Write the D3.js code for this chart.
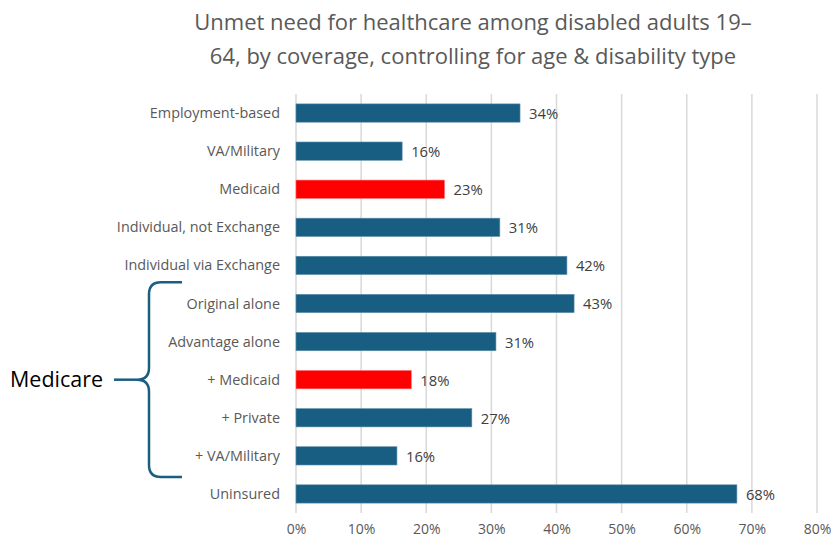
<!DOCTYPE html>
<html>
<head>
<meta charset="utf-8">
<script src="https://cdn.jsdelivr.net/npm/d3@7"></script>
<style>
  body { margin: 0; background: #fff; }
  svg { font-family: "Open Sans", "Noto Sans", sans-serif; }
</style>
</head>
<body>
<svg id="chart" width="831" height="540"></svg>
<script>
// chart data
const categories = ["Employment-based", "VA/Military", "Medicaid", "Individual, not Exchange",
  "Individual via Exchange", "Original alone", "Advantage alone", "+ Medicaid", "+ Private",
  "+ VA/Military", "Uninsured"];
const values = [34.4, 16.3, 22.8, 31.3, 41.6, 42.7, 30.7, 17.7, 27.0, 15.5, 67.7];
const valueLabels = ["34%", "16%", "23%", "31%", "42%", "43%", "31%", "18%", "27%", "16%", "68%"];
const highlighted = ["Medicaid", "+ Medicaid"];
const xTicks = [0, 10, 20, 30, 40, 50, 60, 70, 80];
const titleLines = ["Unmet need for healthcare among disabled adults 19\u2013",
  "64, by coverage, controlling for age & disability type"];
const groupLabel = "Medicare";
const groupMembers = ["Original alone", "+ VA/Military"];

const svg = d3.select("#chart");
const margin = { top: 94, left: 296, right: 14, bottom: 27 };
const width = 831 - margin.left - margin.right;
const height = 540 - margin.top - margin.bottom;

// title
svg.append("text")
  .attr("x", 473).attr("y", 30)
  .attr("text-anchor", "middle")
  .attr("fill", "#595959")
  .style("font-size", "22px")
  .selectAll("tspan")
  .data(titleLines)
  .enter().append("tspan")
  .attr("x", 473)
  .attr("dy", (d, i) => i === 0 ? 0 : 33.5)
  .text(d => d);

const g = svg.append("g")
  .attr("transform", `translate(${margin.left},${margin.top})`);

const xScale = d3.scaleLinear().domain([0, 80]).range([0, width]);
const yScale = d3.scaleBand().domain(categories).range([0, height]).paddingInner(0.52).paddingOuter(0.26);

// gridlines
g.append("g")
  .selectAll("line")
  .data(xTicks)
  .enter().append("line")
  .attr("x1", d => xScale(d)).attr("x2", d => xScale(d))
  .attr("y1", 0).attr("y2", height)
  .attr("stroke", "#d9d9d9")
  .attr("stroke-width", 1.5);

// x axis labels
const xAxis = d3.axisBottom(xScale).tickValues(xTicks).tickFormat(d => d + "%").tickSize(0).tickPadding(11);
g.append("g")
  .attr("transform", `translate(0,${height})`)
  .call(xAxis)
  .call(a => a.select(".domain").remove())
  .selectAll("text")
  .attr("fill", "#595959")
  .style("font-size", "14px")
  .style("font-family", "'Open Sans', 'Noto Sans', sans-serif");

// y labels
g.append("g")
  .selectAll("text")
  .data(categories)
  .enter().append("text")
  .attr("x", -16)
  .attr("y", d => yScale(d) + yScale.bandwidth() / 2)
  .attr("dy", "0.35em")
  .attr("text-anchor", "end")
  .attr("fill", "#595959")
  .style("font-size", "14.4px")
  .text(d => d);

// bars
g.append("g")
  .selectAll("rect")
  .data(categories)
  .enter().append("rect")
  .attr("x", 0)
  .attr("y", d => yScale(d))
  .attr("width", (d, i) => xScale(values[i]))
  .attr("height", yScale.bandwidth())
  .attr("fill", d => highlighted.includes(d) ? "#ff0000" : "#175e82")
  .attr("stroke", d => highlighted.includes(d) ? "#ff6666" : "#5f8faa")
  .attr("stroke-width", 0.6);

// value labels
g.append("g")
  .selectAll("text")
  .data(categories)
  .enter().append("text")
  .attr("x", (d, i) => xScale(values[i]) + 9)
  .attr("y", d => yScale(d) + yScale.bandwidth() / 2)
  .attr("dy", "0.4em")
  .attr("fill", "#404040")
  .style("font-size", "14.8px")
  .text((d, i) => valueLabels[i]);

// Medicare bracket
const braceTop = margin.top + yScale(groupMembers[0]) - 12;
const braceBot = margin.top + yScale(groupMembers[1]) + yScale.bandwidth() + 12;
const braceMid = (braceTop + braceBot) / 2;
const bx = 149, r = 12, tipX = 114;
const brace = d3.path();
brace.moveTo(182, braceTop);
brace.lineTo(bx + r, braceTop);
brace.quadraticCurveTo(bx, braceTop, bx, braceTop + r);
brace.lineTo(bx, braceMid - r);
brace.quadraticCurveTo(bx, braceMid, bx - r, braceMid);
brace.quadraticCurveTo(bx, braceMid, bx, braceMid + r);
brace.lineTo(bx, braceBot - r);
brace.quadraticCurveTo(bx, braceBot, bx + r, braceBot);
brace.lineTo(182, braceBot);
svg.append("path")
  .attr("d", brace.toString())
  .attr("fill", "none")
  .attr("stroke", "#1a5e80")
  .attr("stroke-width", 2.5);
svg.append("line")
  .attr("x1", tipX).attr("x2", bx - r).attr("y1", braceMid).attr("y2", braceMid)
  .attr("stroke", "#1a5e80")
  .attr("stroke-width", 2.5);
svg.append("text")
  .attr("x", 10).attr("y", braceMid)
  .attr("dy", "0.36em")
  .attr("fill", "#000")
  .style("font-size", "21.5px")
  .text(groupLabel);
</script>
</body>
</html>
